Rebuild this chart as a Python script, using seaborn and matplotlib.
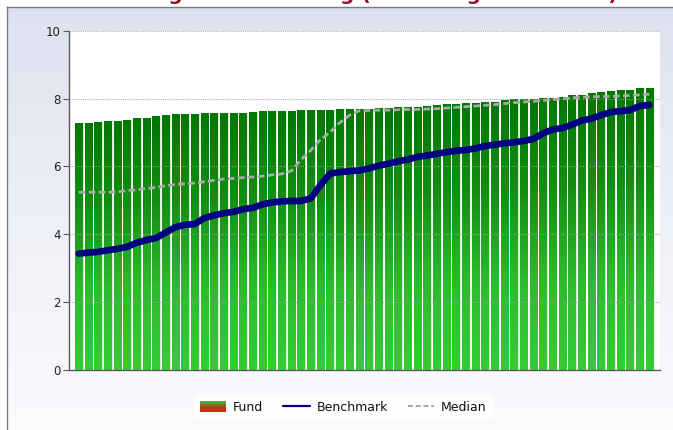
import numpy as np
import pandas as pd
import matplotlib
matplotlib.use("Agg")
import matplotlib.pyplot as plt
import seaborn as sns
from matplotlib.patches import Rectangle
from matplotlib.lines import Line2D
from matplotlib.legend_handler import HandlerBase
from matplotlib.colors import LinearSegmentedColormap

# ---------------- data ----------------
fund = [7.29, 7.29, 7.32, 7.35, 7.35, 7.38, 7.42, 7.44, 7.49, 7.52,
        7.54, 7.54, 7.54, 7.56, 7.56, 7.56, 7.58, 7.58, 7.61, 7.62,
        7.63, 7.63, 7.63, 7.65, 7.65, 7.65, 7.67, 7.69, 7.69, 7.69,
        7.70, 7.73, 7.73, 7.76, 7.76, 7.76, 7.78, 7.80, 7.84, 7.84,
        7.88, 7.88, 7.91, 7.91, 7.95, 7.98, 8.00, 8.00, 8.03, 8.03,
        8.06, 8.10, 8.10, 8.17, 8.18, 8.22, 8.26, 8.26, 8.30, 8.30]
benchmark = [3.43, 3.46, 3.48, 3.53, 3.57, 3.63, 3.75, 3.83, 3.89, 4.05,
             4.21, 4.28, 4.30, 4.48, 4.56, 4.62, 4.66, 4.74, 4.78, 4.88,
             4.94, 4.97, 4.98, 4.98, 5.06, 5.45, 5.79, 5.83, 5.86, 5.88,
             5.94, 6.02, 6.08, 6.15, 6.20, 6.28, 6.32, 6.37, 6.42, 6.46,
             6.48, 6.53, 6.60, 6.64, 6.68, 6.71, 6.75, 6.81, 6.97, 7.09,
             7.13, 7.23, 7.35, 7.41, 7.51, 7.60, 7.63, 7.66, 7.78, 7.81]
median = [5.24, 5.24, 5.24, 5.24, 5.25, 5.29, 5.31, 5.35, 5.38, 5.43,
          5.47, 5.49, 5.51, 5.55, 5.59, 5.63, 5.65, 5.67, 5.69, 5.71,
          5.75, 5.78, 5.87, 6.20, 6.48, 6.79, 7.01, 7.29, 7.51, 7.64,
          7.65, 7.66, 7.66, 7.67, 7.68, 7.68, 7.69, 7.70, 7.72, 7.74,
          7.76, 7.78, 7.80, 7.82, 7.85, 7.88, 7.90, 7.92, 7.94, 7.97,
          7.99, 8.02, 8.04, 8.05, 8.06, 8.06, 8.08, 8.09, 8.11, 8.13]
periods = list(range(len(fund)))
y_ticks = [0, 2, 4, 6, 8, 10]
series_names = ["Fund", "Benchmark", "Median"]
title_text = "Average Credit Rating (Excluding Non-Rated)"

df = pd.DataFrame({"period": periods, "fund": fund,
                   "benchmark": benchmark, "median": median})

# ---------------- figure ----------------
sns.set_theme(style="white")
plt.rcParams["font.family"] = ["DejaVu Sans"]
W, H = 673, 430
fig = plt.figure(figsize=(W / 100, H / 100), dpi=100, facecolor="white")

# panel background gradient with border (top/left)
bg = fig.add_axes([7 / W, 0, 1 - 7 / W, 1 - 7 / H], zorder=-10)
grad = np.linspace(0, 1, 256).reshape(-1, 1)
bg_cmap = LinearSegmentedColormap.from_list("bg", ["#dee1ef", "#eef0f7", "#fafbfd"])
bg.imshow(grad, aspect="auto", cmap=bg_cmap, extent=[0, 1, 0, 1], origin="upper")
bg.set_xlim(0, 1); bg.set_ylim(0, 1)
bg.set_xticks([]); bg.set_yticks([])
for s in ["right", "bottom"]:
    bg.spines[s].set_visible(False)
for s in ["left", "top"]:
    bg.spines[s].set_color("#7c7c7c")
    bg.spines[s].set_linewidth(1.0)

# title (mostly clipped off the top of the image, as in the reference)
fig.text(360 / W, 1.0 + 0.3 / H, title_text, ha="center", va="baseline",
         fontsize=14.5, fontweight="bold", color="#9c0a28")

ax = fig.add_axes([69.3 / W, 1 - 370 / H, (660 - 69.3) / W, (370 - 30.7) / H])
ax.set_facecolor("white")

# pale strip at right side of each bar
ax.bar(np.array(periods) + 0.44, fund, width=0.12, color="#c4e6c4",
       alpha=0.7, zorder=0.9, linewidth=0)

sns.barplot(data=df, x="period", y="fund", color="#1a9a1a", width=0.76,
            ax=ax, zorder=1, linewidth=0, native_scale=True)

bar_cmap = LinearSegmentedColormap.from_list("bar", ["#007800", "#128f12", "#2cbb2c", "#36cc36"])
for p in list(ax.patches):
    if abs(p.get_width() - 0.76) > 0.05:
        continue
    x0 = p.get_x(); w = p.get_width(); h = p.get_height()
    im = ax.imshow(grad, aspect="auto", cmap=bar_cmap, extent=[x0, x0 + w, 0, h],
                   origin="upper", zorder=1.1)
    im.set_clip_path(p)
    p.set_facecolor("none")

sns.lineplot(data=df, x="period", y="median", ax=ax, color="#a9a9a9",
             linewidth=2.0, linestyle=(0, (2.4, 1.2)), zorder=4, legend=False)
sns.lineplot(data=df, x="period", y="benchmark", ax=ax, color="#000080",
             linewidth=4.8, zorder=5, legend=False, solid_capstyle="round")

ax.set_xlim(-0.97, 60.1)
ax.set_ylim(0, 10)
ax.set_yticks(y_ticks)
ax.set_yticklabels([str(t) for t in y_ticks])
ax.set_xticks([])
ax.set_xlabel("")
ax.set_ylabel("")
ax.set_axisbelow(False)
ax.yaxis.grid(True, color="#a0a0a0", linestyle=(0, (1, 1)), linewidth=0.8, alpha=0.8)
ax.xaxis.grid(False)
for s in ["top", "right"]:
    ax.spines[s].set_visible(False)
for s in ["left", "bottom"]:
    ax.spines[s].set_color("#5a5a5a")
    ax.spines[s].set_linewidth(1.0)
ax.tick_params(axis="y", which="both", left=True, length=4.3, width=0.8,
               color="#5a5a5a", labelsize=8.5, labelcolor="#222222", pad=2)

# ---------------- legend ----------------
class GradientHandler(HandlerBase):
    def create_artists(self, legend, orig_handle, xdescent, ydescent,
                       width, height, fontsize, trans):
        n = 14
        cm = LinearSegmentedColormap.from_list("lg", ["#e8200a", "#a04a14", "#42b642"])
        arts = []
        for i in range(n):
            c = cm(i / (n - 1))
            r = Rectangle((-xdescent, -ydescent + height * i / n), width,
                          height / n + 0.2, facecolor=c, edgecolor="none",
                          transform=trans)
            arts.append(r)
        return arts

fund_handle = Rectangle((0, 0), 1, 1)
bench_handle = Line2D([], [], color="#000080", linewidth=1.6)
med_handle = Line2D([], [], color="#a9a9a9", linewidth=1.4, linestyle=(0, (2.5, 1.5)))
leg = fig.legend([fund_handle, bench_handle, med_handle], series_names,
                 handler_map={Rectangle: GradientHandler()},
                 loc="center", bbox_to_anchor=(0.51, 1 - 407.5 / H), ncol=3,
                 fontsize=9, frameon=True, fancybox=False, handlelength=2.1,
                 handleheight=0.95, handletextpad=0.55, columnspacing=1.6,
                 borderpad=0.5)
leg.get_frame().set_facecolor("white")
leg.get_frame().set_edgecolor("none")
leg.get_frame().set_alpha(0.85)
for t in leg.get_texts():
    t.set_color("#111111")

fig.savefig("out.png", dpi=100, facecolor="white")
